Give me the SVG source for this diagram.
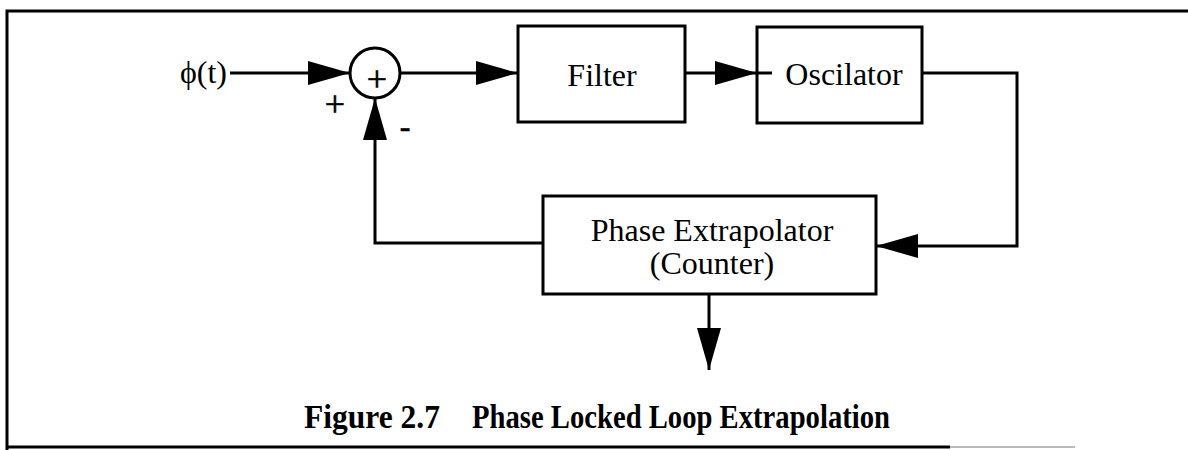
<svg xmlns="http://www.w3.org/2000/svg" width="1188" height="450" viewBox="0 0 1188 450">
  <style>
    .frame { fill: none; stroke: #000; stroke-width: 3; }
    .box { fill: #fff; stroke: #000; stroke-width: 3; }
    .wire { fill: none; stroke: #000; stroke-width: 3; }
    .label { font-family: "Liberation Serif", "Times New Roman", serif; font-size: 32px; fill: #000; }
    .sign { font-family: "Liberation Serif", "Times New Roman", serif; fill: #000; stroke: #000; stroke-width: 0.6; }
    .caption { font-family: "Liberation Serif", "Times New Roman", serif; font-size: 34px; font-weight: bold; fill: #000; }
  </style>
  <defs>
    <marker id="arrow" viewBox="0 0 42 24" refX="42" refY="12" markerWidth="42" markerHeight="24" markerUnits="userSpaceOnUse" orient="auto">
      <path d="M0,0 L42,12 L0,24 Z" fill="#000"/>
    </marker>
  </defs>

  <rect width="1188" height="450" fill="#fff"/>

  <!-- page frame -->
  <path class="frame" d="M7,450 V11 H1188"/>
  <path class="frame" d="M7,447 H950" stroke-width="2"/>
  <path d="M950,447 H1075" stroke="#bbb" stroke-width="2"/>

  <!-- input label -->
  <g id="input">
    <text class="label" x="227" y="83" text-anchor="end" font-size="30">ϕ(t)</text>
  </g>

  <!-- summing junction -->
  <g id="sum">
    <circle cx="375" cy="73" r="25" fill="#fff" stroke="#000" stroke-width="3"/>
    <text class="sign" x="377" y="91" font-size="36" text-anchor="middle">+</text>
    <text class="sign" x="335" y="116" font-size="36" text-anchor="middle">+</text>
    <text class="sign" x="405" y="137" font-size="32" text-anchor="middle">-</text>
  </g>

  <g id="filter">
    <rect class="box" x="518" y="26" width="167" height="96"/>
    <text class="label" x="602" y="86" text-anchor="middle">Filter</text>
  </g>

  <g id="oscillator">
    <rect class="box" x="757" y="27" width="165" height="96"/>
    <text class="label" x="844" y="85" text-anchor="middle">Oscilator</text>
  </g>

  <g id="extrapolator">
    <rect class="box" x="543" y="196" width="333" height="98"/>
    <text class="label" x="712" y="241" text-anchor="middle">Phase Extrapolator</text>
    <text class="label" x="712" y="274" text-anchor="middle">(Counter)</text>
  </g>

  <!-- signal paths -->
  <g id="connectors">
    <path class="wire" d="M230,73 H350" marker-end="url(#arrow)"/>
    <path class="wire" d="M400,73 H518" marker-end="url(#arrow)"/>
    <path class="wire" d="M685,73 H757" marker-end="url(#arrow)"/>
    <path class="wire" d="M757,73 H772"/>
    <path class="wire" d="M922,73 H1017 V246 H876" marker-end="url(#arrow)"/>
    <path class="wire" d="M543,243 H375 V98" marker-end="url(#arrow)"/>
    <path class="wire" d="M709,294 V370" marker-end="url(#arrow)"/>
  </g>

  <!-- caption -->
  <text class="caption" x="304" y="428" textLength="136" lengthAdjust="spacingAndGlyphs">Figure 2.7</text>
  <text class="caption" x="472" y="428" textLength="418" lengthAdjust="spacingAndGlyphs">Phase Locked Loop Extrapolation</text>
</svg>
